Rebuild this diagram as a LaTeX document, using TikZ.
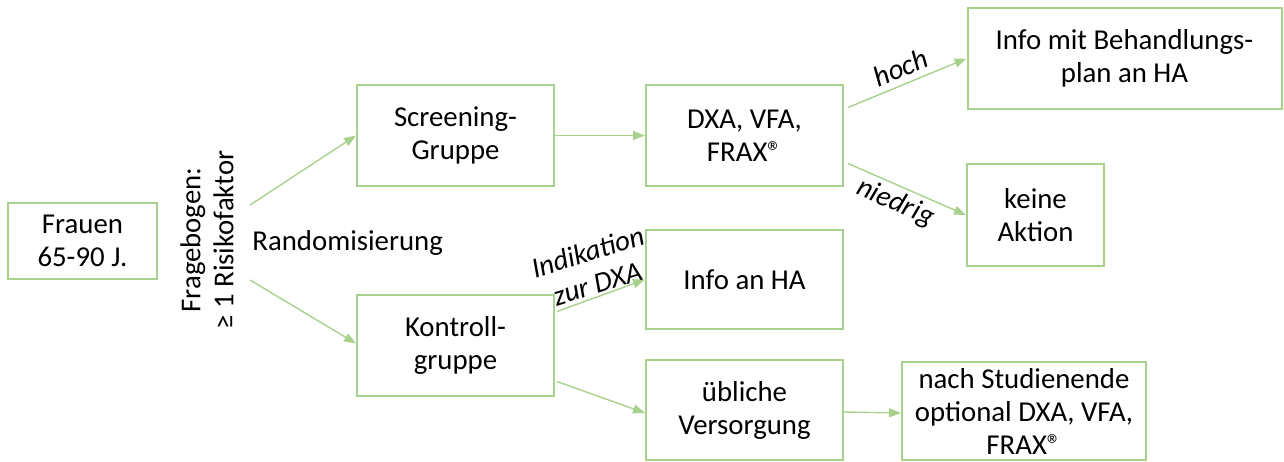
\documentclass[tikz,border=0pt]{standalone}
\usepackage{fontspec}
\setmainfont{Carlito}
\usetikzlibrary{arrows.meta}
\definecolor{boxgreen}{RGB}{169,209,142}

\begin{document}
\begin{tikzpicture}[x=0.5pt, y=-0.5pt,
    font=\fontsize{14.4}{16.5}\selectfont,
    box/.style={draw=boxgreen, line width=1pt, align=center, inner sep=0pt},
    arr/.style={draw=boxgreen, line width=0.7pt, -{Triangle[length=6pt,width=4.5pt]}},
    lbl/.style={font=\fontsize{14.4}{16.5}\itshape, align=center, inner sep=1pt}
]
                \useasboundingbox (0,0) rectangle (1284,461);

                % boxes
                \node[box, minimum width=74.5pt, minimum height=38pt] (frauen) at (82.5,241) {Frauen\\65-90 J.};
                \node[box, minimum width=98.5pt, minimum height=50.5pt] (screen) at (455.5,135.5) {Screening-\\Gruppe};
                \node[box, minimum width=98.5pt, minimum height=50.5pt] (kontroll) at (455.5,345.5) {Kontroll-\\gruppe};
                \node[box, minimum width=98.5pt, minimum height=50.5pt] (dxa) at (744.5,135.5) {DXA, VFA,\\FRAX®};
                \node[box, minimum width=98.5pt, minimum height=49.5pt] (infoha) at (744.5,279.5) {Info an HA};
                \node[box, minimum width=98.5pt, minimum height=50pt] (ueblich) at (744.5,410) {übliche\\Versorgung};
                \node[box, minimum width=157pt, minimum height=50.5pt] (infobeh) at (1124.5,58.5) {Info mit Behandlungs-\\plan an HA};
                \node[box, minimum width=68.5pt, minimum height=51pt] (keine) at (1035.5,215) {keine\\Aktion};
                \node[box, minimum width=122pt, minimum height=49pt] (nach) at (1024,411) {nach Studienende\\optional DXA, VFA,\\FRAX®};

                % texts
                \node[rotate=90, align=center, inner sep=0pt] (frage) at (207,240) {Fragebogen:\\≥ 1 Risikofaktor};
                \node[anchor=west, inner sep=0pt] (rando) at (252,243) {Randomisierung};
                \coordinate (up) at (250,205);
                \coordinate (down) at (250,280);

                % arrows
                \draw[arr] (up) -- (screen.west);
                \draw[arr] (down) -- ([yshift=1pt]kontroll.west);
                \draw[arr] (screen.east) -- (dxa.west);
                \draw[arr] ([xshift=2pt, yshift=14pt]dxa.east) -- node[lbl, sloped, above=2pt, pos=0.5] {hoch} (infobeh.west);
                \draw[arr] ([xshift=2pt, yshift=-14pt]dxa.east) -- node[lbl, sloped, below=1pt, pos=0.46] {niedrig} (keine.west);
                \draw[arr] ([xshift=1pt, yshift=17pt]kontroll.east) -- node[lbl, sloped, above, pos=0.5, rotate=-3] {Indikation\\zur DXA} (infoha.west);
                \draw[arr] ([xshift=1pt, yshift=-18pt]kontroll.east) -- ([yshift=-1.5pt]ueblich.west);
                \draw[arr] ([yshift=-1pt]ueblich.east) -- ([yshift=-1pt]nach.west);
\end{tikzpicture}
\end{document}
